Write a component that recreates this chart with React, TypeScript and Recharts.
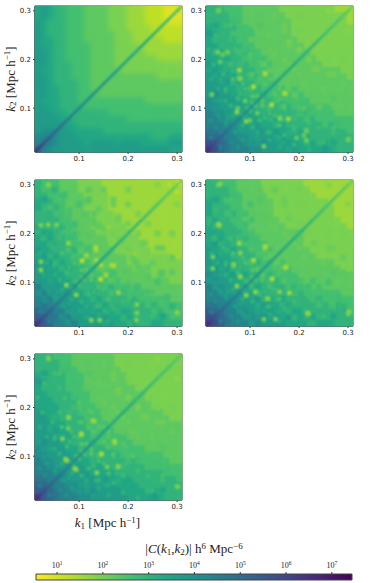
import React from "react";
import { ScatterChart, Scatter, XAxis, YAxis, ReferenceArea, Label } from "recharts";

const kCentres = [0.016,0.029,0.041,0.054,0.066,0.079,0.091,0.104,0.116,0.129,0.141,0.154,0.166,0.179,0.191,0.204,0.216,0.229,0.241,0.254,0.266,0.279,0.291,0.304];
const kTicks = [0.1,0.2,0.3];
const barTicks = [1,2,3,4,5,6,7];
const barEnds = [0.54,7.44];
const viridisReversed = ["#fde725","#bddf26","#7ad151","#44bf70","#22a884","#21918c","#2a788e","#355f8d","#414487","#482475","#440154"];

// log10(|C|) x 10; row = larger k, column = smaller k (the matrices are symmetric)
const panelA = [
[52],
[44,48],
[41,43,44],
[38,41,41,40],
[38,38,38,36,36],
[37,37,36,35,33,33],
[36,37,35,33,32,31,30],
[36,35,34,33,31,30,29,28],
[35,34,34,33,31,30,28,27,26],
[36,35,34,32,30,29,28,27,25,25],
[35,35,33,32,30,29,28,27,25,24,24],
[36,35,33,31,30,29,28,26,25,24,23,23],
[37,35,32,31,29,28,27,26,25,24,23,22,22],
[36,34,32,30,29,28,27,26,25,24,23,22,21,21],
[37,35,32,30,29,28,27,26,25,24,23,22,21,20,20],
[37,35,32,30,29,27,27,26,25,24,23,22,21,20,19,19],
[37,35,32,30,29,27,26,26,25,24,23,22,21,20,20,19,18],
[35,34,32,30,28,27,26,25,25,23,22,21,21,20,20,19,18,17],
[35,34,32,30,28,27,26,25,24,23,22,21,21,20,19,18,17,16,15],
[36,34,31,30,28,27,26,25,24,23,22,21,21,20,19,18,17,15,14,13],
[36,34,31,29,28,27,26,25,24,23,22,21,20,20,19,17,16,15,14,13,12],
[35,34,31,29,28,27,26,25,24,23,22,21,20,20,18,17,16,15,13,12,11,10],
[34,35,32,29,28,26,26,25,24,23,22,21,20,19,18,17,16,14,13,12,11,10,9],
[34,35,32,30,28,27,26,25,24,23,22,21,20,19,18,17,16,15,13,12,11,10,9,8],
];

const panelB = [
[60],
[56,53],
[52,49,47],
[47,48,45,43],
[45,43,44,40,40],
[43,44,39,41,37,37],
[42,39,41,37,38,34,34],
[39,41,36,38,34,35,32,32],
[41,36,38,35,36,32,33,30,30],
[37,39,35,36,32,34,30,31,28,28],
[38,35,37,33,34,31,32,28,29,27,26],
[36,37,33,35,31,32,29,30,27,27,25,25],
[37,34,35,32,33,30,30,27,28,25,26,24,24],
[34,36,32,33,30,31,28,28,26,26,24,24,23,23],
[35,32,34,31,31,28,29,26,27,24,25,23,23,23,23],
[33,34,31,32,29,29,27,27,25,25,23,23,23,22,22,22],
[34,31,32,29,30,27,28,25,25,23,24,23,22,22,21,21,21],
[32,33,30,30,28,28,25,26,24,24,23,23,22,21,21,21,20,20],
[33,30,31,28,29,26,26,24,24,23,23,22,22,21,21,20,20,20,20],
[35,32,29,30,27,27,25,25,23,23,23,22,21,21,20,20,20,20,20,20],
[34,30,30,28,28,26,25,24,24,23,23,22,21,21,20,20,20,20,20,20,19],
[30,31,29,29,27,26,24,24,23,23,22,22,21,21,20,20,20,20,19,19,19,19],
[31,29,29,27,27,25,24,23,23,22,22,21,21,20,20,20,20,19,19,19,19,18,18],
[30,29,28,27,26,25,24,23,23,22,22,21,20,20,20,20,19,19,19,18,18,17,16,15],
];

const panelC = [
[59],
[55,52],
[51,48,46],
[45,46,43,41],
[44,41,42,38,38],
[41,42,37,39,35,35],
[42,37,38,35,36,32,32],
[37,38,34,36,32,33,30,29],
[38,34,36,33,34,30,31,28,27],
[35,37,33,34,30,32,28,29,25,25],
[36,33,35,31,32,29,30,26,26,24,23],
[34,35,31,33,29,30,26,27,24,24,22,22],
[35,32,33,30,31,27,28,24,25,22,23,21,21],
[32,34,30,31,28,29,25,25,23,23,21,21,20,20],
[33,30,32,29,29,26,26,23,24,21,22,20,20,19,19],
[31,32,29,30,27,26,24,24,22,22,20,20,19,19,18,18],
[32,29,30,27,28,25,25,22,22,20,21,19,19,18,18,17,17],
[30,31,28,28,26,25,23,23,21,21,20,19,18,18,17,17,17,17],
[31,28,29,26,26,24,23,22,21,20,20,18,18,17,17,17,17,16,16],
[33,30,27,28,25,24,22,22,20,20,19,18,17,17,16,16,16,16,16,15],
[32,28,28,26,25,23,22,21,21,19,19,18,17,17,16,16,16,15,15,15,15],
[28,29,27,26,25,23,21,21,20,19,18,18,17,17,16,16,15,15,15,15,15,15],
[29,27,27,25,24,22,21,20,20,18,18,17,17,17,16,16,15,15,15,15,15,14,14],
[28,27,26,25,24,22,21,20,20,18,18,17,17,17,16,16,15,15,15,15,14,14,14,13],
];

const panelD = [
[60],
[56,53],
[53,49,48],
[46,48,44,43],
[45,42,44,39,39],
[42,44,38,40,36,36],
[43,38,40,36,37,33,33],
[38,40,35,37,33,34,31,31],
[40,35,37,34,35,31,32,29,29],
[36,39,34,35,31,33,29,30,27,27],
[38,34,36,32,33,30,31,27,28,25,25],
[35,36,32,34,30,31,28,29,26,26,24,24],
[36,33,34,31,32,29,29,26,27,24,25,23,23],
[33,35,31,32,29,30,27,27,25,25,23,23,22,22],
[34,31,33,30,30,27,28,25,26,23,24,22,22,21,21],
[32,33,30,31,28,28,26,26,24,24,22,22,21,21,21,21],
[33,30,31,28,29,26,27,24,24,22,23,21,21,20,20,20,20],
[31,32,29,29,27,27,24,25,23,23,21,21,20,20,20,19,19,19],
[32,29,30,27,28,25,25,23,23,21,22,20,20,20,19,19,19,19,18],
[34,31,28,29,26,26,24,24,22,22,21,20,20,20,19,19,19,18,18,18],
[33,29,29,27,27,25,24,23,23,21,21,20,20,19,19,18,18,18,18,18,17],
[29,30,28,28,26,25,23,23,22,21,20,20,20,19,18,18,18,18,17,17,17,17],
[30,28,28,26,26,24,23,22,22,20,20,20,19,19,18,18,18,17,17,17,17,16,16],
[29,28,27,26,25,24,23,22,21,20,20,20,19,18,18,18,17,17,17,17,16,16,15,15],
];

const panelE = [
[60],
[55,53],
[52,49,48],
[47,47,45,43],
[45,43,43,41,40],
[43,43,40,41,38,37],
[42,40,40,38,38,35,34],
[40,40,37,38,35,35,33,32],
[40,37,38,36,36,33,33,31,30],
[38,39,36,36,33,34,31,31,29,28],
[38,36,37,34,34,32,32,29,29,27,26],
[37,37,34,35,32,32,30,30,28,27,26,25],
[37,35,35,33,33,31,30,28,28,26,26,25,24],
[35,36,33,33,31,31,29,28,27,26,25,24,24,23],
[35,33,34,32,31,29,29,27,27,25,25,24,23,23,22],
[34,34,32,32,30,29,28,27,26,25,24,23,23,22,22,22],
[34,32,32,30,30,28,28,26,25,24,24,23,22,22,22,22,21],
[33,33,31,31,29,28,26,26,25,24,23,22,22,22,21,21,21,21],
[33,31,31,29,29,27,26,25,24,23,23,22,22,21,21,21,21,20,20],
[35,32,30,30,28,27,26,25,24,23,22,22,22,21,21,20,20,20,20,20],
[34,31,30,29,28,26,25,25,24,23,22,22,22,21,21,20,20,20,20,20,20],
[31,31,29,29,27,26,25,24,23,22,22,22,21,21,20,20,20,20,20,20,19,19],
[31,30,29,28,27,26,24,24,23,22,22,22,21,20,20,20,20,20,20,19,19,19,18],
[30,29,28,27,26,25,24,23,23,22,22,22,21,20,20,20,20,20,19,19,19,18,18,18],
];

const diagA = [66,62,58,56,54,52,50,49,47,46,45,44,43,42,42,41,40,40,39,39,38,37,37,36,36,35,35,34,34,33,33,32,32,31,30,30,29,28,27,26];
const diagB = [66,62,58,55,52,50,48,46,45,44,43,42,41,40,39,38,38,37,36,36,35,34,34,33,33,32,31,31,30,30,29,28,28,27,26,26,25,24,23,21];
const diagC = [66,62,58,55,52,49,47,46,44,43,42,41,40,39,38,37,37,36,35,35,34,33,33,32,31,31,30,30,29,28,28,27,27,26,25,24,24,23,22,20];
const diagD = [66,62,58,55,53,50,48,46,45,44,43,42,41,40,39,38,37,37,36,35,35,34,33,33,32,31,31,30,30,29,28,28,27,26,26,25,24,24,23,21];
const diagE = [66,62,58,55,53,51,49,47,46,44,43,42,41,40,39,39,38,37,37,36,35,35,34,33,33,32,32,31,30,30,29,29,28,27,27,26,26,25,24,23];

const spotsB = [[0.078,0.178,15],[0.107,0.144,13],[0.131,0.17,15],[0.172,0.13,15],[0.035,0.3,19],[0.034,0.215,20],[0.054,0.215,20],[0.073,0.092,17],[0.128,0.022,20],[0.162,0.078,21],[0.302,0.037,22],[0.21,0.044,22],[0.08,0.16,19],[0.039,0.195,22],[0.1,0.075,22],[0.09,0.115,21]];
const spotsC = [[0.106,0.144,12],[0.134,0.171,14],[0.166,0.135,15],[0.18,0.079,17],[0.078,0.18,17],[0.037,0.3,18],[0.285,0.3,13],[0.037,0.218,19],[0.054,0.218,19],[0.074,0.094,17],[0.214,0.159,17],[0.125,0.022,18],[0.142,0.022,19],[0.3,0.038,18],[0.217,0.022,19],[0.155,0.115,16],[0.145,0.135,15]];
const spotsD = [[0.078,0.18,15],[0.107,0.145,14],[0.131,0.174,15],[0.172,0.13,15],[0.035,0.219,17],[0.066,0.137,17],[0.08,0.16,18],[0.073,0.092,17],[0.111,0.08,17],[0.135,0.067,19],[0.217,0.037,17],[0.302,0.039,18],[0.152,0.024,20],[0.128,0.024,20],[0.035,0.3,20]];
const spotsE = [[0.105,0.145,15],[0.131,0.172,16],[0.173,0.128,16],[0.18,0.078,18],[0.079,0.179,18],[0.075,0.091,16],[0.094,0.072,18],[0.038,0.3,20],[0.136,0.066,18],[0.157,0.078,20],[0.302,0.037,20],[0.146,0.104,15]];
// fainter speckle common to the noisy panels: [smaller k, larger k, log10 x 10]
const speckle = [[0.02,0.04,44],[0.03,0.06,40],[0.02,0.075,38],[0.035,0.085,36],[0.05,0.07,35],[0.065,0.085,31],[0.025,0.1,38],[0.04,0.115,33],[0.06,0.105,29],[0.075,0.12,27],[0.02,0.13,35],[0.035,0.14,31],[0.05,0.135,29],[0.065,0.16,25],[0.02,0.16,31],[0.045,0.17,28],[0.025,0.19,29],[0.06,0.19,27],[0.09,0.14,25],[0.1,0.17,25],[0.115,0.125,23],[0.12,0.195,24],[0.14,0.16,23],[0.15,0.13,23],[0.16,0.15,23],[0.085,0.085,27],[0.095,0.1,25],[0.11,0.105,24],[0.125,0.105,23],[0.15,0.085,26],[0.13,0.08,27],[0.115,0.05,31],[0.14,0.05,29],[0.16,0.04,31],[0.19,0.06,27],[0.22,0.07,26],[0.24,0.03,29],[0.27,0.06,25],[0.29,0.09,23],[0.03,0.25,27],[0.05,0.27,26],[0.015,0.22,29],[0.08,0.25,26],[0.1,0.03,37],[0.08,0.055,33],[0.17,0.105,24],[0.19,0.125,23],[0.21,0.1,23],[0.24,0.11,23],[0.11,0.24,24],[0.14,0.22,22],[0.17,0.2,21],[0.19,0.18,21],[0.015,0.27,31],[0.06,0.24,27],[0.1,0.2,25]];
// wider, low-contrast patches along the contour edges
const mottle = [[0.2,0.22,20],[0.17,0.26,21],[0.15,0.29,22],[0.12,0.27,24],[0.15,0.21,22],[0.18,0.235,20],[0.22,0.24,19],[0.23,0.18,21],[0.27,0.17,21],[0.29,0.2,20],[0.25,0.14,22],[0.29,0.12,23],[0.22,0.13,23],[0.26,0.1,24],[0.2,0.09,27],[0.24,0.08,26],[0.28,0.07,27],[0.18,0.05,31],[0.22,0.05,30],[0.27,0.03,34],[0.07,0.28,27],[0.09,0.22,27],[0.12,0.16,25],[0.1,0.26,26],[0.13,0.24,23],[0.04,0.24,30],[0.06,0.21,30],[0.08,0.19,28],[0.19,0.15,23],[0.17,0.12,26],[0.14,0.1,27],[0.2,0.04,33],[0.29,0.05,30],[0.26,0.2,20],[0.3,0.26,18]];

const PLOT_LEFT = 35;
const PLOT_TOP = 6;
const PLOT_W = 147;
const PLOT_H = 146;
const DIAG_START = 0.01375;
const DIAG_STEP = 0.0075;
const CONTOUR_STEP = 0.35;

function colour(v: number) {
  const t = Math.min(1, Math.max(0, (v - 0.54) / 6.9)) * (viridisReversed.length - 1);
  const i = Math.min(viridisReversed.length - 2, Math.floor(t));
  const f = t - i;
  const a = viridisReversed[i], b = viridisReversed[i + 1];
  const ch = (s: string, o: number) => parseInt(s.slice(o, o + 2), 16);
  const m = (o: number) => Math.round(ch(a, o) + (ch(b, o) - ch(a, o)) * f);
  return `rgb(${m(1)},${m(3)},${m(5)})`;
}
const contourColour = (v: number) => colour((Math.floor(v / CONTOUR_STEP) + 0.5) * CONTOUR_STEP);

const bandShape = (size: number) => (p: any) => (
  <rect x={p.cx - size / 2} y={p.cy - size / 2} width={size} height={size} fill={contourColour(p.payload.v)} />
);
const squareShape = (size: number) => (p: any) => (
  <rect x={p.cx - size / 2} y={p.cy - size / 2} width={size} height={size} fill={colour(p.payload.v)} />
);
const diagShape = (p: any) => (
  <rect x={p.cx - 2.8} y={p.cy - 1.25} width={5.6} height={2.5} fill={colour(p.payload.v)} transform={`rotate(-45 ${p.cx} ${p.cy})`} />
);

function gridCells(rows: number[][]) {
  const out: { x: number; y: number; v: number }[] = [];
  rows.forEach((row, j) =>
    row.forEach((val, i) => {
      out.push({ x: kCentres[i], y: kCentres[j], v: val / 10 });
      if (i !== j) out.push({ x: kCentres[j], y: kCentres[i], v: val / 10 });
    })
  );
  return out;
}
const diagCells = (d: number[]) => d.map((val, i) => ({ x: DIAG_START + i * DIAG_STEP, y: DIAG_START + i * DIAG_STEP, v: val / 10 }));
const spotCells = (s: number[][]) =>
  s.flatMap(([a, b, val]) => [{ x: a, y: b, v: val / 10 }, { x: b, y: a, v: val / 10 }]);

const serif = "'Liberation Serif', serif";
const sans = "'DejaVu Sans', sans-serif";

const YLab = (props: any) => (
  <text x={12} y={PLOT_TOP + PLOT_H / 2} transform={`rotate(-90 12 ${PLOT_TOP + PLOT_H / 2})`} textAnchor="middle" fontFamily={serif} fontSize={13} fill="#222" dominantBaseline="middle">
    <tspan fontStyle="italic">k</tspan><tspan fontSize={9} dy={2}>2</tspan><tspan dy={-2}> [Mpc h</tspan><tspan fontSize={9} dy={-4}>−1</tspan><tspan dy={4}>]</tspan>
  </text>
);
const XLab = (props: any) => (
  <text x={PLOT_LEFT + PLOT_W / 2 - 1} y={PLOT_TOP + PLOT_H + 27} textAnchor="middle" fontFamily={serif} fontSize={13} fill="#222">
    <tspan fontStyle="italic">k</tspan><tspan fontSize={9} dy={2}>1</tspan><tspan dy={-2}> [Mpc h</tspan><tspan fontSize={9} dy={-4}>−1</tspan><tspan dy={4}>]</tspan>
  </text>
);

function Panel({ left, top, rows, diag, spots, faint, patches, yLabel, xLabel, id, blur }: any) {
  const cells = gridCells(rows);
  return (
    <div style={{ position: "absolute", left, top }}>
      <ScatterChart width={PLOT_LEFT + PLOT_W + 7} height={PLOT_TOP + PLOT_H + 32} margin={{ top: PLOT_TOP, right: 7, bottom: 0, left: 0 }}>
        <defs>
          <clipPath id={`clip-${id}`}>
            <rect x={PLOT_LEFT} y={PLOT_TOP} width={PLOT_W} height={PLOT_H} />
          </clipPath>
        </defs>
        <XAxis type="number" dataKey="x" domain={[0.01, 0.31]} ticks={kTicks} tickFormatter={(t: number) => t.toFixed(1)} height={32} tickSize={2} tickMargin={2} stroke="#333" interval={0} tick={{ fontSize: 7, fontFamily: sans, fill: "#222" }}>
          {xLabel ? <Label content={<XLab />} /> : null}
        </XAxis>
        <YAxis type="number" dataKey="y" domain={[0.01, 0.31]} ticks={kTicks} tickFormatter={(t: number) => t.toFixed(1)} width={PLOT_LEFT} tickSize={2} tickMargin={2} stroke="#333" interval={0} tick={{ fontSize: 7, fontFamily: sans, fill: "#222" }}>
          {yLabel ? <Label content={<YLab />} /> : null}
        </YAxis>
        <Scatter data={cells} isAnimationActive={false} shape={squareShape(6.6)} />
        <Scatter data={cells} isAnimationActive={false} shape={bandShape(6.6)} className={`soft soft-${id}`} />
        {patches.length ? <Scatter data={spotCells(patches)} isAnimationActive={false} shape={squareShape(6)} className={`fine fine-${id}`} /> : null}
        {faint.length ? <Scatter data={spotCells(faint)} isAnimationActive={false} shape={squareShape(3.8)} className={`fine fine-${id}`} /> : null}
        {spots.length ? <Scatter data={spotCells(spots)} isAnimationActive={false} shape={squareShape(4.4)} className={`fine fine-${id}`} /> : null}
        <Scatter data={diagCells(diag)} isAnimationActive={false} shape={diagShape} className={`fine fine-${id}`} />
        <ReferenceArea x1={0.01} x2={0.31} y1={0.01} y2={0.31} fill="none" stroke="#3a3a3a" strokeWidth={1} ifOverflow="visible" />
      </ScatterChart>
      <style>{`.soft-${id}{filter:blur(${blur}px);clip-path:url(#clip-${id});} .fine-${id}{filter:blur(0.8px);clip-path:url(#clip-${id});}`}</style>
    </div>
  );
}

const BarTick = (props: any) => (
  <text x={props.x} y={props.y - 2} textAnchor="middle" fontFamily={serif} fontSize={8} fill="#222">
    10<tspan fontSize={5.5} dy={-3}>{props.payload.value}</tspan>
  </text>
);
const barAnchors = barEnds.map((x) => ({ x, y: 0.5 }));

function ColourBar() {
  return (
    <div style={{ position: "absolute", left: 0, top: 530 }}>
      <ScatterChart width={389} height={53} margin={{ top: 24, right: 37, bottom: 3, left: 36 }}>
        <defs>
          <linearGradient id="bar" x1="0" x2="1" y1="0" y2="0">
            {viridisReversed.map((c, i) => (
              <stop key={c} offset={i / (viridisReversed.length - 1)} stopColor={c} />
            ))}
          </linearGradient>
        </defs>
        <XAxis orientation="top" type="number" dataKey="x" domain={barEnds} ticks={barTicks} height={20} tickSize={2} stroke="#333" interval={0} tick={<BarTick />} axisLine={false} />
        <YAxis type="number" dataKey="y" domain={[0, 1]} hide />
        <Scatter data={barAnchors} isAnimationActive={false} shape={() => <g />} />
        <ReferenceArea x1={barEnds[0]} x2={barEnds[1]} y1={0} y2={1} fill="url(#bar)" fillOpacity={1} stroke="#444" strokeWidth={1} ifOverflow="visible" />
      </ScatterChart>
    </div>
  );
}

export default function App() {
  return (
    <div style={{ position: "absolute", left: 0, top: 0, width: 389, height: 583, background: "#fff", overflow: "hidden" }}>
      <Panel id="a" left={0} top={0} rows={panelA} diag={diagA} spots={[]} faint={[]} patches={[]} yLabel blur={2.6} />
      <Panel id="b" left={171} top={0} rows={panelB} diag={diagB} spots={spotsB} faint={speckle} patches={mottle} blur={0.9} />
      <Panel id="c" left={0} top={174} rows={panelC} diag={diagC} spots={spotsC} faint={speckle} patches={mottle} yLabel blur={0.9} />
      <Panel id="d" left={171} top={174} rows={panelD} diag={diagD} spots={spotsD} faint={speckle} patches={mottle} blur={0.9} />
      <Panel id="e" left={0} top={348} rows={panelE} diag={diagE} spots={spotsE} faint={speckle} patches={mottle} yLabel xLabel blur={0.9} />
      <ColourBar />
      <svg width={389} height={30} style={{ position: "absolute", left: 0, top: 535, pointerEvents: "none" }}>
        <text x={194} y={18} textAnchor="middle" fontFamily={serif} fontSize={13} fill="#222">
          |<tspan fontStyle="italic">C</tspan>(<tspan fontStyle="italic">k</tspan><tspan fontSize={9} dy={2}>1</tspan><tspan dy={-2}>,</tspan><tspan fontStyle="italic">k</tspan><tspan fontSize={9} dy={2}>2</tspan><tspan dy={-2}>)| h</tspan><tspan fontSize={9} dy={-4}>6</tspan><tspan dy={4}> Mpc</tspan><tspan fontSize={9} dy={-4}>−6</tspan>
        </text>
      </svg>
    </div>
  );
}
